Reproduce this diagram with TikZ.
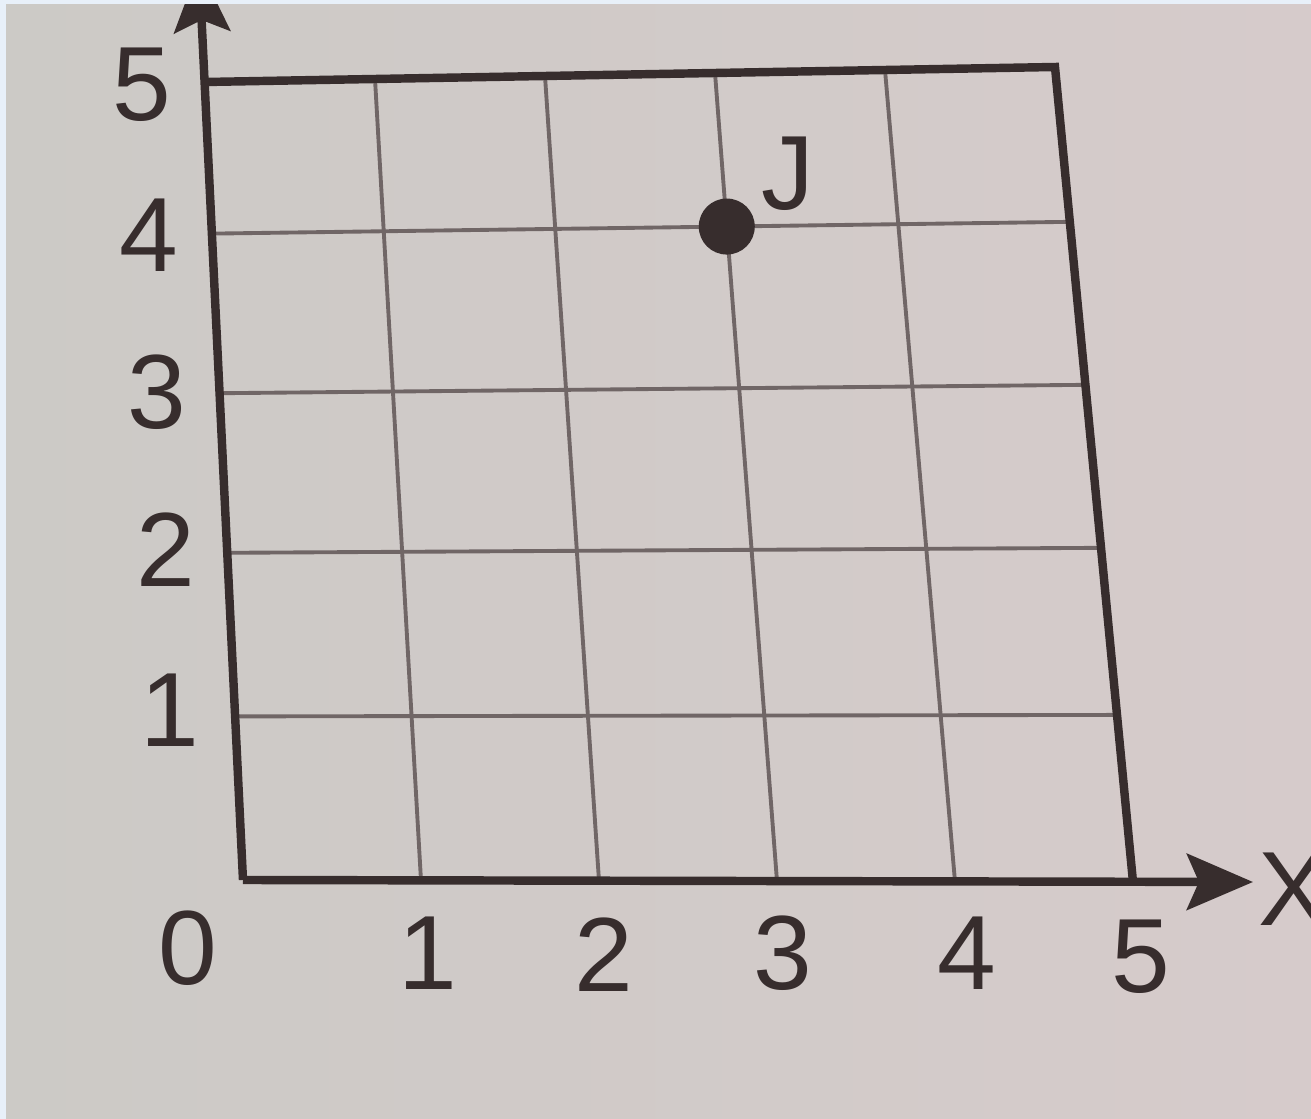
\documentclass[tikz,border=0pt]{standalone}
\usepackage{fontspec}
\setmainfont{Liberation Sans}
\usetikzlibrary{arrows.meta}
\definecolor{ink}{RGB}{55,45,45}
\definecolor{gridink}{RGB}{112,102,102}
\definecolor{paperleft}{RGB}{204,202,198}
\definecolor{paperright}{RGB}{214,203,203}
\definecolor{scanblue}{RGB}{232,240,249}
% corners of the grid as photographed (pixels)
\def\blx{243}\def\bly{880}
\def\brx{1133}\def\bry{882}
\def\tlx{205}\def\tly{82}
\def\trx{1055}\def\try{67}

\begin{document}
\begin{tikzpicture}[x=0.01cm, y=-0.01cm,
  nodes = {font=\fontsize{30}{36}\selectfont, text=ink, inner sep=0pt},
  frameline/.style = {draw=ink, line width=2.4pt},
  gridline/.style = {draw=gridink, line width=1.1pt},
  axisline/.style = {frameline, -{Stealth[length=0.66cm, width=0.56cm, inset=0.12cm]}},
  dot/.style = {circle, fill=ink, minimum size=0.56cm}]
\useasboundingbox (0,0) rectangle (1311,1119);
\shade[left color=paperleft, right color=paperright] (0,0) rectangle (1311,1119);
% grid points g<i><j>, bilinear between the corners
\foreach \i/\gu in {0/0,1/0.2,2/0.4,3/0.6,4/0.8,5/1} {
\foreach \j/\gv in {0/0,1/0.205,2/0.41,3/0.61,4/0.81,5/1} {
\pgfmathsetmacro\gx{(1-\gu)*(1-\gv)*\blx + \gu*(1-\gv)*\brx + (1-\gu)*\gv*\tlx + \gu*\gv*\trx}
\pgfmathsetmacro\gy{(1-\gu)*(1-\gv)*\bly + \gu*(1-\gv)*\bry + (1-\gu)*\gv*\tly + \gu*\gv*\try}
\coordinate (g\i\j) at (\gx,\gy);
}
}
% thin lines inside
\foreach \i in {1,...,4} \draw[gridline] (g\i0) -- (g\i5);
\foreach \j in {1,...,4} \draw[gridline] (g0\j) -- (g5\j);
% frame and axes
\draw[frameline] (g05) -- (g55) -- (g50);
\coordinate (yend) at (199,-34);
\coordinate (xend) at (1253,882);
\draw[axisline] (g00) -- (yend);
\draw[axisline] (g00) -- (xend);
% point J
\node[dot] (ptJ) at (g34) {};
\node (labJ) at (788,174) {J};
% tick numbers
\foreach \n/\lx/\ly in {1/170/710, 2/166/550, 3/157/392, 4/149/235, 5/142/85}
  \node (ly\n) at (\lx,\ly) {\n};
\foreach \n/\lx/\ly in {0/188/948, 1/428/953, 2/604/955, 3/783/953, 4/967/953, 5/1141/957}
  \node (lx\n) at (\lx,\ly) {\n};
\node (labX) at (1294,889) {X}; % cut by the edge, as in the photo
% scan edge
\fill[scanblue] (0,0) rectangle (6,1119);
\fill[scanblue] (0,0) rectangle (1311,4);
\end{tikzpicture}
\end{document}
